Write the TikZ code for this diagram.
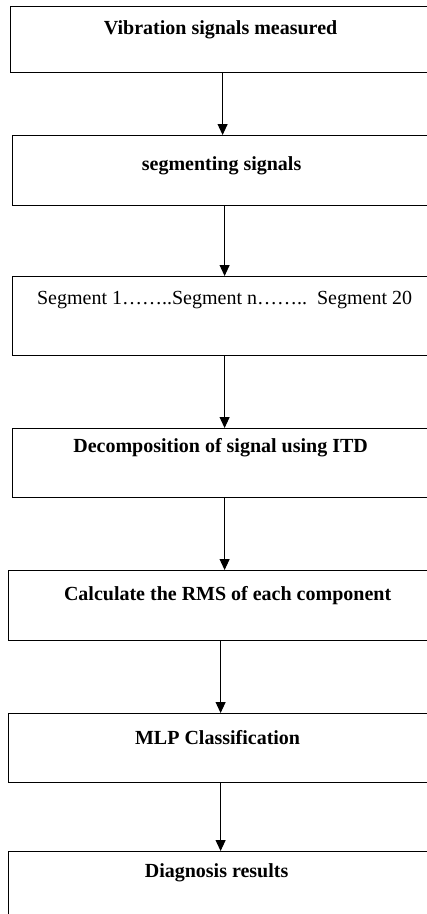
\documentclass[tikz,border=0pt]{standalone}
\usepackage{fontspec}
\setmainfont{Liberation Serif}
\usetikzlibrary{arrows.meta}

\tikzset{
    stage/.style={draw, line width=1.2pt, anchor=north west, inner sep=0pt,
        minimum width=424pt, align=center,
        font=\fontsize{20}{24}\selectfont\bfseries},
    flow/.style={line width=1pt, -{Triangle[width=10pt, length=11pt]}}
}

\begin{document}
\begin{tikzpicture}[x=1pt, y=-1pt]
    \useasboundingbox (0,0) rectangle (427,914);
    \clip (0,0) rectangle (427,914);

    % Nodes
    \node[stage, text height=27.5pt, text depth=38.5pt] at (10, 6)   (meas)  {Vibration signals measured\hspace{4pt}};
    \node[stage, text height=34.5pt, text depth=35.5pt] at (12, 135) (seg)   {segmenting signals\hspace{6pt}};
    \node[stage, text height=27.5pt, text depth=51.5pt, font=\fontsize{20}{24}\selectfont]
                                                        at (12, 276) (parts) {Segment 1……..Segment n……..\ \ Segment 20};
    \node[stage, text height=23.5pt, text depth=45.5pt] at (12, 428) (itd)   {Decomposition of signal using ITD\hspace{8pt}};
    \node[stage, text height=29.5pt, text depth=40.5pt] at (8, 570)  (rms)   {\hspace{14pt}Calculate the RMS of each component};
    \node[stage, text height=30.5pt, text depth=38.5pt] at (8, 713)  (mlp)   {MLP Classification\hspace{6pt}};
    \node[stage, text height=25.5pt, text depth=54.5pt] at (8, 851)  (diag)  {Diagnosis results\hspace{8pt}};

    % Arrows
    \draw[flow] (meas.south)  -- (meas.south  |- seg.north);
    \draw[flow] (seg.south)   -- (seg.south   |- parts.north);
    \draw[flow] (parts.south) -- (parts.south |- itd.north);
    \draw[flow] (itd.south)   -- (itd.south   |- rms.north);
    \draw[flow] (rms.south)   -- (rms.south   |- mlp.north);
    \draw[flow] (mlp.south)   -- (mlp.south   |- diag.north);
\end{tikzpicture}
\end{document}
